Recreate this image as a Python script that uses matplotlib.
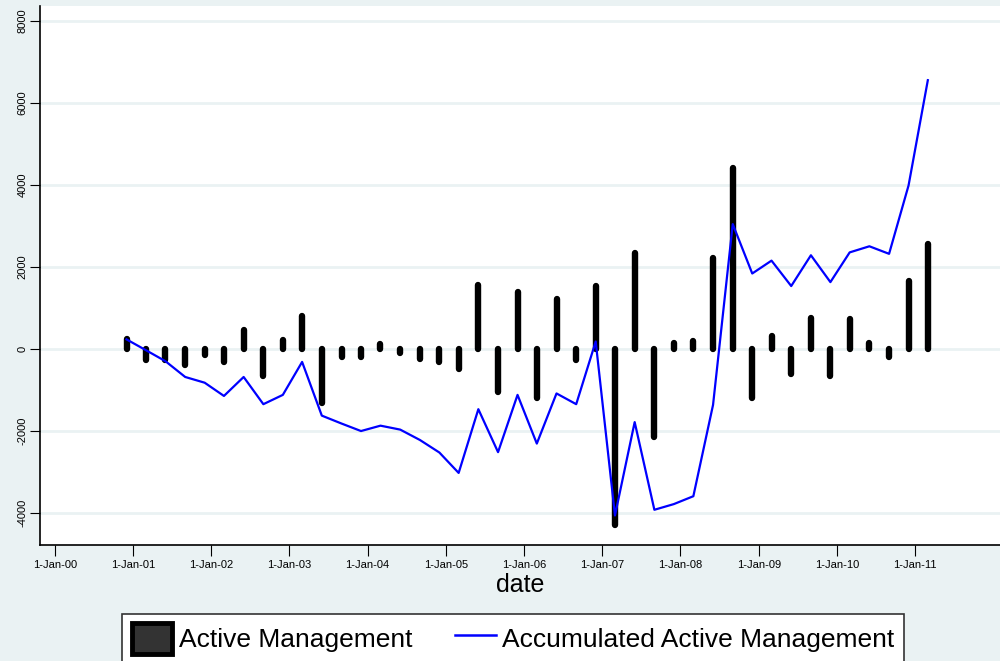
import pandas as pd
import matplotlib.pyplot as plt
import matplotlib.dates as mdates
from matplotlib.patches import Patch
from matplotlib.lines import Line2D

# Quarterly observations, Dec 2000 - Mar 2011
dates = pd.date_range("2000-12-01", periods=42, freq="3MS")

# Active management per quarter (spikes)
active = [236, -260, -270, -384, -140, -323, 463, -664, 227, 804,
          -1310, -193, -183, 131, -96, -253, -306, -498, 1555, -1048,
          1397, -1188, 1223, -262, 1528, -4297, 2332, -2139, 139, 192,
          2228, 4410, -1205, 314, -620, 751, -655, 725, 149, -184,
          1668, 2568]

# Accumulated active management (line)
accumulated = [236, -26, -297, -681, -821, -1144, -681, -1345, -1118, -314,
               -1624, -1817, -2000, -1869, -1965, -2218, -2524, -3022, -1467, -2515,
               -1118, -2306, -1083, -1345, 183, -4060, -1782, -3921, -3782, -3590,
               -1362, 3048, 1843, 2157, 1537, 2288, 1633, 2358, 2507, 2323,
               3991, 6559]

yticks = [-4000, -2000, 0, 2000, 4000, 6000, 8000]
xticks = pd.date_range("2000-01-01", "2011-01-01", freq="YS")

bg = "#eaf2f3"
plt.rcParams["font.family"] = ["Liberation Sans", "DejaVu Sans"]

fig = plt.figure(figsize=(10, 6.61), dpi=100, facecolor=bg)
ax = fig.add_axes([0.04, 0.1755, 0.96, 0.8155])
ax.set_facecolor("white")

ax.set_xlim(pd.Timestamp("1999-10-24"), pd.Timestamp("2012-02-01"))
ax.set_ylim(-4780, 8370)

for y in yticks:
    ax.axhline(y, color=bg, linewidth=2, zorder=0)

ax.vlines(dates, 0, active, color="black", linewidth=4.6,
          capstyle="round", zorder=2)
ax.plot(dates, accumulated, color="#0000ff", linewidth=1.6, zorder=3)

ax.set_yticks(yticks)
ax.set_yticklabels([str(v) for v in yticks], rotation=90, va="center", fontsize=8)
ax.set_xticks(xticks)
ax.xaxis.set_major_formatter(mdates.DateFormatter("1-Jan-%y"))
ax.tick_params(axis="x", labelsize=8, length=8, width=0.8, pad=3)
ax.tick_params(axis="y", length=7, width=0.8, pad=2)
ax.set_xlabel("date", fontsize=18, labelpad=2)

for s in ["top", "right"]:
    ax.spines[s].set_visible(False)
for s in ["left", "bottom"]:
    ax.spines[s].set_linewidth(1.2)

handles = [Patch(facecolor="#333333", edgecolor="black", linewidth=3.5,
                 joinstyle="round"),
           Line2D([0], [0], color="#0000ff", linewidth=1.8)]
leg = fig.legend(handles, ["Active Management", "Accumulated Active Management"],
                 loc="upper center", bbox_to_anchor=(0.513, 0.071), ncol=2,
                 fontsize=19, frameon=True, fancybox=False, edgecolor="#333333",
                 framealpha=1, handlelength=1.55, handleheight=1.4,
                 handletextpad=0.25, columnspacing=1.6, borderpad=0.35,
                 borderaxespad=0)
leg.get_frame().set_linewidth(1.2)

plt.savefig("out.png", dpi=100, facecolor=bg)
